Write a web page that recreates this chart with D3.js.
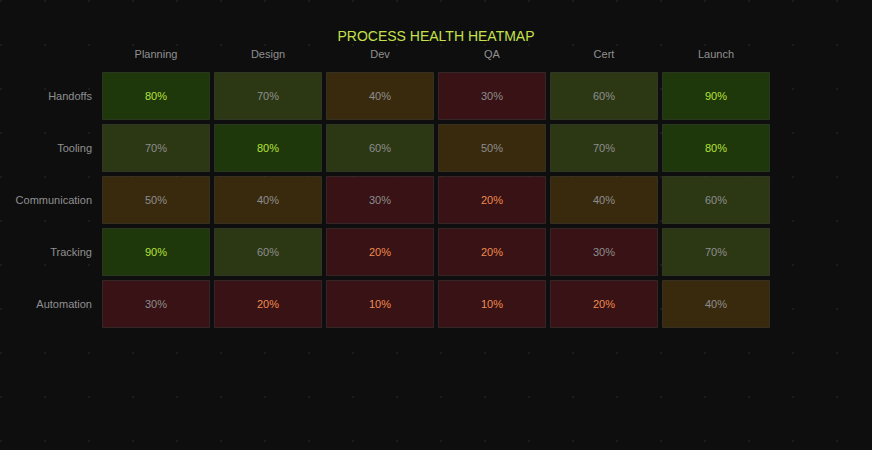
<!DOCTYPE html>
<html>
<head>
<meta charset="utf-8">
<script src="https://cdn.jsdelivr.net/npm/d3@7"></script>
<style>
  html, body { margin: 0; padding: 0; background: #0e0e0e; }
  body {
    width: 872px; height: 450px; overflow: hidden;
    background-image: radial-gradient(circle at 1px 1px, #1c1c1c 1px, transparent 1.2px);
    background-size: 44px 44px;
  }
  svg { display: block; font-family: "Liberation Sans", Arial, sans-serif; }
</style>
</head>
<body>
<svg width="872" height="450"></svg>
<script>
// stages across the top, process areas down the side
const stages = ['Planning', 'Design', 'Dev', 'QA', 'Cert', 'Launch']
const areas = ['Handoffs', 'Tooling', 'Communication', 'Tracking', 'Automation']

// health score per area, one value per stage
const handoffs      = [80, 70, 40, 30, 60, 90]
const tooling       = [70, 80, 60, 50, 70, 80]
const communication = [50, 40, 30, 20, 40, 60]
const tracking      = [90, 60, 20, 20, 30, 70]
const automation    = [30, 20, 10, 10, 20, 40]

const rows = [handoffs, tooling, communication, tracking, automation]

let cells = []
rows.forEach((vals, i) => {
    vals.forEach((v, j) => cells.push({ area: areas[i], stage: stages[j], value: v }))
})

let svg = d3.select('svg')

let x = d3.scaleBand()
    .domain(stages)
    .range([100, 772])

let y = d3.scaleBand()
    .domain(areas)
    .range([70, 330])

// fill by score bucket
function fillFor(v) {
    if (v >= 80) return '#1e380b'
    if (v >= 60) return '#2c3814'
    if (v >= 40) return '#392a0d'
    return '#381214'
}

function textFor(v) {
    if (v >= 80) return '#b8e03a'
    if (v <= 20) return '#f08a50'
    return '#8e8e8e'
}

svg.append('text')
    .attr('x', 436)
    .attr('y', 41)
    .attr('text-anchor', 'middle')
    .attr('fill', '#c5e04c')
    .style('font-size', '14px')
    .text('PROCESS HEALTH HEATMAP')

// column labels
svg.append('g')
    .selectAll('text')
    .data(stages)
    .join('text')
        .attr('x', d => x(d) + x.bandwidth() / 2)
        .attr('y', 58)
        .attr('text-anchor', 'middle')
        .attr('fill', '#909090')
        .style('font-size', '11px')
        .text(d => d)

// row labels
svg.append('g')
    .selectAll('text')
    .data(areas)
    .join('text')
        .attr('x', 92)
        .attr('y', d => y(d) + y.bandwidth() / 2)
        .attr('dy', '0.35em')
        .attr('text-anchor', 'end')
        .attr('fill', '#909090')
        .style('font-size', '11px')
        .text(d => d)

let g = svg.append('g')

g.selectAll('rect')
    .data(cells)
    .join('rect')
        .attr('x', d => x(d.stage) + 2.5)
        .attr('y', d => y(d.area) + 2.5)
        .attr('width', x.bandwidth() - 5)
        .attr('height', y.bandwidth() - 5)
        .attr('fill', d => fillFor(d.value))
        .attr('stroke', 'rgba(255,255,255,0.09)')
        .attr('stroke-width', 1)

g.selectAll('text')
    .data(cells)
    .join('text')
        .attr('x', d => x(d.stage) + x.bandwidth() / 2)
        .attr('y', d => y(d.area) + y.bandwidth() / 2)
        .attr('dy', '0.35em')
        .attr('text-anchor', 'middle')
        .attr('fill', d => textFor(d.value))
        .style('font-size', '11px')
        .text(d => d.value + '%')
</script>
</body>
</html>
